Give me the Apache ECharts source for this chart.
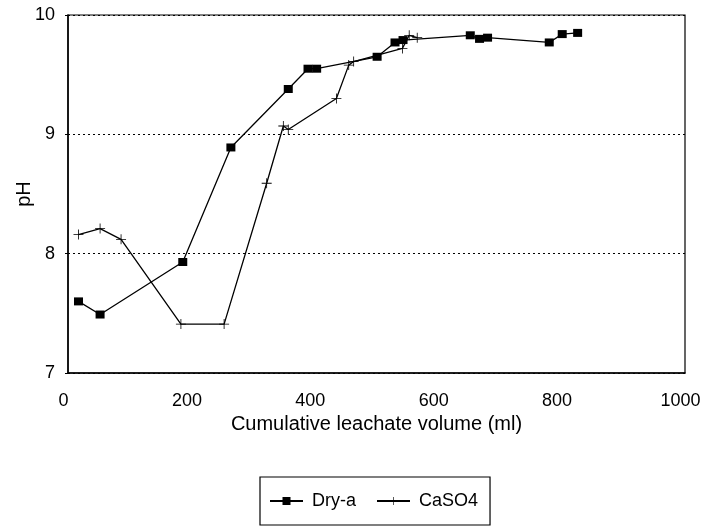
<!DOCTYPE html>
<html>
<head>
<meta charset="utf-8">
<script src="https://cdn.jsdelivr.net/npm/echarts@6/dist/echarts.min.js"></script>
<style>html,body{margin:0;padding:0;background:#fff;}#c{width:702px;height:530px;}</style>
</head>
<body>
<div id="c"></div>
<script>
var dryX = [17, 52, 186, 264, 357, 389, 403, 501, 530, 543, 652, 667, 680, 780, 801, 826];
var dryY = [7.60, 7.49, 7.93, 8.89, 9.38, 9.55, 9.55, 9.65, 9.77, 9.79, 9.83, 9.80, 9.81, 9.77, 9.84, 9.85];
var caX = [17, 52, 86, 183, 253, 322, 349, 357, 435, 455, 463, 542, 553, 566];
var caY = [8.16, 8.21, 8.12, 7.41, 7.41, 8.59, 9.07, 9.04, 9.30, 9.58, 9.61, 9.72, 9.83, 9.81];
var xTicks = [0, 200, 400, 600, 800, 1000];
var yTicks = [7, 8, 9, 10];

function pairs(xs, ys) { return xs.map(function (x, i) { return [x, ys[i]]; }); }
var plus = 'path://M4.6,0h0.8v4.6h4.6v0.8h-4.6v4.6h-0.8v-4.6h-4.6v-0.8h4.6z';
var font = '"Liberation Sans", Arial, sans-serif';

var chart = echarts.init(document.getElementById('c'));
chart.setOption({
  animation: false,
  backgroundColor: '#fff',
  textStyle: { fontFamily: font, color: '#000' },
  grid: { left: 68, right: 17, top: 15, bottom: 157, show: true, borderColor: '#000', borderWidth: 1.2, outerBoundsMode: 'none', containLabel: false },
  xAxis: {
    type: 'value', min: xTicks[0], max: xTicks[xTicks.length - 1], interval: 200,
    name: 'Cumulative leachate volume (ml)', nameLocation: 'middle', nameGap: 41, nameMoveOverlap: false,
    nameTextStyle: { fontSize: 20, color: '#000', fontFamily: font },
    axisLine: { show: true, lineStyle: { color: '#000', width: 1.5 } },
    axisTick: { show: false },
    axisLabel: {
      fontSize: 18, color: '#000', margin: 19, fontFamily: font,
      formatter: function (v) { return '{a|' + v + '}'; },
      rich: { a: { fontSize: 18, color: '#000', fontFamily: font, padding: [0, 9, 0, 0] } }
    },
    splitLine: { show: false }
  },
  yAxis: {
    type: 'value', min: yTicks[0], max: yTicks[yTicks.length - 1], interval: 1,
    name: 'pH', nameLocation: 'middle', nameGap: 34, nameRotate: 90, nameMoveOverlap: false,
    nameTextStyle: { fontSize: 20, color: '#000', fontFamily: font },
    axisLine: { show: true, lineStyle: { color: '#000', width: 1.5 } },
    axisTick: { show: true, length: 3, lineStyle: { color: '#000' } },
    axisLabel: { fontSize: 18, color: '#000', margin: 13, fontFamily: font },
    splitLine: { show: true, lineStyle: { color: '#000', type: [2, 3], width: 1 } }
  },
  legend: {
    data: ['Dry-a', 'CaSO4'],
    left: 260, top: 477, width: 231,
    padding: [15, 12, 15, 9],
    borderColor: '#000', borderWidth: 1.2,
    itemWidth: 33, itemHeight: 10, itemGap: 20,
    textStyle: { fontSize: 18, color: '#000', fontFamily: font, padding: [0, 0, 0, 4] }
  },
  series: [
    {
      name: 'Dry-a', type: 'line', data: pairs(dryX, dryY),
      symbol: 'rect', symbolSize: [9, 8],
      itemStyle: { color: '#000' },
      lineStyle: { color: '#000', width: 1.3 }
    },
    {
      name: 'CaSO4', type: 'line', data: pairs(caX, caY),
      symbol: plus, symbolSize: 10,
      itemStyle: { color: '#000' },
      lineStyle: { color: '#000', width: 1.3 }
    }
  ]
});
</script>
</body>
</html>
